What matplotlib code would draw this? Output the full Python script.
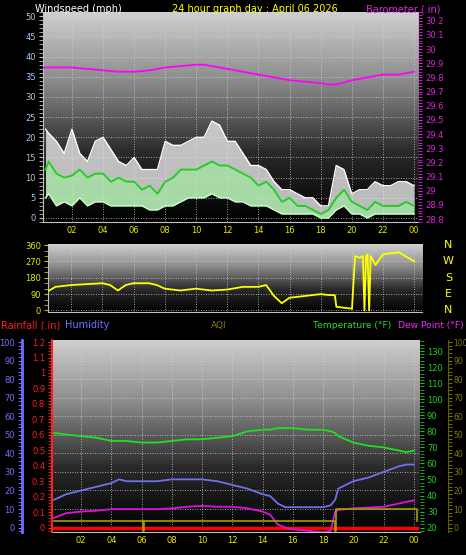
import numpy as np
import matplotlib
matplotlib.use("Agg")
import matplotlib.pyplot as plt
from matplotlib.colors import LinearSegmentedColormap
from matplotlib.ticker import MultipleLocator

# ---------------- data ----------------
wind_t = [0.3,0.5,1,1.5,2,2.5,3,3.5,4,4.5,5,5.5,6,6.5,7,7.5,8,8.5,9,9.5,10,10.5,11,11.5,12,12.5,
          13,13.5,14,14.5,15,15.5,16,16.5,17,17.5,18,18.5,19,19.5,20,20.5,21,21.5,22,22.5,23,23.5,24]
wind_avg = [12,14,11,10,10.5,12,10,11,11,9,10,9,9,7,8,6,9,10,12,12,12,13,14,13,13,12,
            11,10,8,9,7,4,5,3,3,2,1,2,5,7,4,3,2,4,3,3,3,4,3]
wind_gust = [22,21,19,16,22,16,14,19,20,17,14,13,15,12,12,12,19,18,18,19,20,20,24,23,19,19,
             16,13,13,12,9,7,7,6,5,5,3,3,13,12,6,7,7,9,8,8,9,9,8]
wind_low = [5,6,3,4,3,5,3,4,4,3,3,3,3,3,2,2,3,3,4,5,5,5,6,5,5,4,
            4,3,3,3,2,1,1,1,1,1,0,0,2,3,1,1,0,1,1,1,1,1,1]

baro_t = [0.2,2,3,4,5,6,7,8,9,10,10.5,11,12,13,14,15,16,17,18,18.5,19,20,21,22,23,24]
baro = [29.87,29.87,29.86,29.85,29.84,29.84,29.85,29.87,29.88,29.89,29.89,29.88,29.86,29.84,
        29.82,29.80,29.78,29.77,29.76,29.75,29.75,29.78,29.80,29.82,29.82,29.84]

dir_t = [0.6,1,2,3,4,4.5,5,5.5,6,7,7.5,8,9,10,11,12,13,14,14.5,15,15.5,16,17,18,18.5,18.9,19,20,
         20.2,20.5,20.7,20.8,20.9,21.0,21.1,21.2,21.5,22,23,24]
wind_dir = [110,130,140,145,150,140,110,140,150,150,140,120,110,120,110,115,130,130,140,80,40,70,80,
            90,85,85,20,10,300,290,300,0,300,310,0,300,250,310,320,270]

th_t = [0.2,1,2,3,4,4.5,5,6,7,8,9,10,11,12,13,14,14.5,15,15.5,16,17,18,18.5,18.8,19,20,21,22,23,23.5,24]
temp = [79,78,77,76,74,74,74,73,73,74,75,75,76,77,80,81,81,82,82,82,81,81,80,79,77,73,71,70,68,67,68]
humid = [15,18,20,22,24,26,25,25,25,26,26,26,25,23,21,18,17,13,11,11,11,11,12,15,21,25,27,30,33,34,34]
dew = [26,29,30,30.5,31.5,31.5,31.5,31.5,31.5,32,33,33.5,33,33,32,30,28,22,20,19,18,17,18,30,31,32,32.5,33,35,36,37]
aqi_t = [0.2,6.05,6.1,6.15,18.75,18.8,18.85,24.2]
aqi = [3.5,3.5,-2,3.5,3.5,-2,10,3.5]
rain_t = [0.2,24.2]
rain = [0,0]

hour_ticks = [2,4,6,8,10,12,14,16,18,20,22,24]
hour_labels = ['02','04','06','08','10','12','14','16','18','20','22','00']

# ---------------- figure ----------------
fig = plt.figure(figsize=(4.66,5.55), dpi=100, facecolor='black')
cmap = LinearSegmentedColormap.from_list('bg', ['#000000', '#2a2a2a', '#8a8a8a', '#cfcfcf'])
grad = np.linspace(0,1,200).reshape(-1,1)
FS = 6.0
HF = 7.0

def setup(ax, xlim):
    ax.set_facecolor('black')
    ax.imshow(grad, cmap=cmap, origin='lower', extent=[0,1,0,1], aspect='auto',
              transform=ax.transAxes, zorder=0)
    ax.set_xlim(*xlim)
    ax.set_xticks(hour_ticks)
    ax.set_xticklabels(hour_labels, color='#e8e800', fontsize=FS)
    ax.tick_params(axis='x', colors='#e8e800', length=0, pad=3)
    ax.grid(True, color='#d0d0d0', linestyle=(0,(1,2)), linewidth=0.6, zorder=1)
    for s in ax.spines.values():
        s.set_color('#c0c0c0')
    ax.spines['top'].set_visible(False)
    ax.spines['right'].set_visible(False)

# ---- top: wind + barometer ----
ax1 = fig.add_axes([0.092, 0.600, 0.805, 0.378])
setup(ax1, (0.13, 24.26))
ax1.set_ylim(-1, 51)
ax1.set_yticks(range(0,51,5))
ax1.yaxis.set_minor_locator(MultipleLocator(1))
ax1.tick_params(axis='y', which='both', colors='#c0c0c0', labelcolor='#a8c8f0', labelsize=FS, length=3, pad=2)
ax1.fill_between(wind_t, wind_avg, wind_gust, color='#e8e8e8', alpha=0.8, lw=0, zorder=2)
ax1.plot(wind_t, wind_gust, color='white', lw=1.0, zorder=2)
ax1.fill_between(wind_t, wind_low, wind_avg, color='#b8f0b8', alpha=0.9, lw=0, zorder=3)
ax1.plot(wind_t, wind_low, color='#c8ffc8', lw=1.0, zorder=3)
ax1.plot(wind_t, wind_avg, color='#20d020', lw=1.3, zorder=4)
ax1b = ax1.twinx()
ax1b.set_ylim(28.78, 30.26)
bt = np.round(np.arange(28.8, 30.21, 0.1), 1)
ax1b.set_yticks(bt)
ax1b.set_yticklabels([f'{v:g}' for v in bt])
ax1b.yaxis.set_minor_locator(MultipleLocator(0.02))
ax1b.tick_params(axis='y', which='both', colors='#e020e0', labelcolor='#e020e0', labelsize=FS, length=3, pad=2)
for s in ax1b.spines.values():
    s.set_visible(False)
ax1b.plot(baro_t, baro, color='#ff00ff', lw=1.3)
fig.text(0.075, 0.992, 'Windspeed (mph)', color='white', fontsize=HF, va='top')
fig.text(0.37, 0.992, '24 hour graph day : April 06 2026', color='#ffff00', fontsize=HF, va='top')
fig.text(0.945, 0.992, 'Barometer (.in)', color='#e020e0', fontsize=HF, va='top', ha='right')

# ---- middle: wind direction ----
ax2 = fig.add_axes([0.103, 0.438, 0.803, 0.122])
setup(ax2, (0.52, 24.5))
ax2.set_ylim(-8, 365)
ax2.set_yticks([0,90,180,270,360])
ax2.yaxis.set_minor_locator(MultipleLocator(30))
ax2.tick_params(axis='y', which='both', colors='#c0c000', labelcolor='#e8e800', labelsize=FS, length=3, pad=2)
ax2.tick_params(axis='x', labelbottom=False, labeltop=False)
ax2.plot(dir_t, wind_dir, color='#ffff00', lw=1.3, zorder=3)
for lab, yy in zip(['N','W','S','E','N'], [360,270,180,90,0]):
    ax2.text(1.07, (yy+8)/373, lab, transform=ax2.transAxes, color='#ffff00', fontsize=8, va='center', ha='center')

# ---- bottom: humidity / rain / temp / aqi ----
ax3 = fig.add_axes([0.112, 0.041, 0.789, 0.346])
setup(ax3, (0.08, 24.4))
ax3.set_ylim(-2.5, 101)
ax3.set_yticks(range(0,101,10))
ax3.yaxis.set_minor_locator(MultipleLocator(2))
ax3.spines['left'].set_position(('outward', 22))
ax3.spines['left'].set_color('#7070ff')
ax3.spines['left'].set_linewidth(2)
ax3.tick_params(axis='y', which='both', colors='#7070ff', labelcolor='#7070ff', labelsize=FS, length=3, pad=2)
ax3.plot(th_t, humid, color='#7070f0', lw=1.3, zorder=4)

axr = ax3.twinx()
axr.set_ylim(-0.03, 1.212)
axr.yaxis.set_ticks_position('left')
axr.yaxis.set_label_position('left')
rt = np.round(np.arange(0,1.21,0.1),1)
axr.set_yticks(rt)
axr.set_yticklabels([f'{v:g}' for v in rt])
axr.yaxis.set_minor_locator(MultipleLocator(0.02))
axr.tick_params(axis='y', which='both', colors='#ff2020', labelcolor='#ff2020', labelsize=FS, length=3, pad=2)
for k, s in axr.spines.items():
    s.set_visible(k == 'left')
axr.spines['left'].set_color('#ff2020')
axr.spines['left'].set_linestyle((0,(2,1)))
axr.spines['left'].set_linewidth(1.5)
axr.plot(rain_t, rain, color='#ff0000', lw=2.5, zorder=5)

axt = ax3.twinx()
axt.set_ylim(20-2.5*1.156, 20+101*1.156)
axt.set_yticks(range(20,131,10))
axt.yaxis.set_minor_locator(MultipleLocator(2))
axt.tick_params(axis='y', which='both', colors='#20c020', labelcolor='#20d020', labelsize=FS, length=3, pad=2)
for k, s in axt.spines.items():
    s.set_visible(False)
axt.plot(th_t, temp, color='#20e020', lw=1.3, zorder=4)
axt.plot(th_t, dew, color='#e010e0', lw=1.3, zorder=4)

axa = ax3.twinx()
axa.set_ylim(-2.5, 101)
axa.set_yticks(range(0,101,10))
axa.yaxis.set_minor_locator(MultipleLocator(2))
axa.spines['right'].set_position(('outward', 20))
for k, s in axa.spines.items():
    s.set_visible(k == 'right')
axa.spines['right'].set_color('#606000')
axa.spines['right'].set_linestyle((0,(1,1)))
axa.tick_params(axis='y', which='both', colors='#808000', labelcolor='#808000', labelsize=5.5, length=3, pad=1)
axa.plot(aqi_t, aqi, color='#a0a000', lw=1.2, drawstyle='steps-post', zorder=3)

fig.text(0.002, 0.405, 'Rainfall (.in)', color='#ff2020', fontsize=HF, va='bottom')
fig.text(0.14, 0.405, 'Humidity', color='#7070ff', fontsize=HF, va='bottom')
fig.text(0.47, 0.405, 'AQI', color='#808000', fontsize=6.5, va='bottom', ha='center')
fig.text(0.672, 0.405, 'Temperature (°F)', color='#20e020', fontsize=6.6, va='bottom')
fig.text(0.995, 0.405, 'Dew Point (°F)', color='#ff20ff', fontsize=6.6, va='bottom', ha='right')

fig.savefig('out.png', dpi=100, facecolor='black')
